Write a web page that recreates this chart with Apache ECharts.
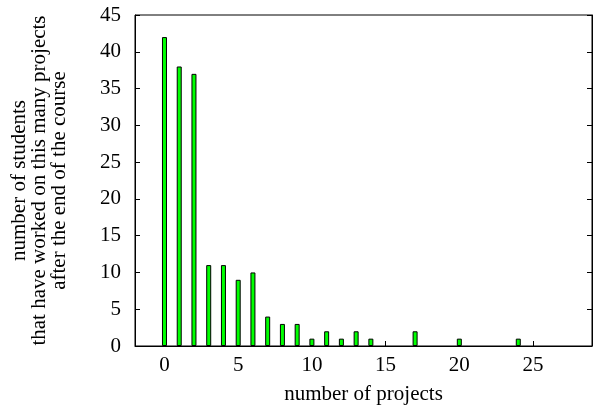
<!DOCTYPE html>
<html>
<head>
	<meta charset="UTF-8">
	<title>projects per student</title>
	<script src="https://cdn.jsdelivr.net/npm/echarts@6.0.0/dist/echarts.min.js"></script>
	<style>
		html, body { margin: 0; padding: 0; background: #fff; }
		#main { width: 597px; height: 410px; }
	</style>
</head>
<body>
<div id="main"></div>
<script>
	// number of projects -> number of students
	var projectCounts = [0, 1, 2, 3, 4, 5, 6, 7, 8, 9, 10, 11, 12, 13, 14, 17, 20, 24];
	var studentCounts = [42, 38, 37, 11, 11, 9, 10, 4, 3, 3, 1, 2, 1, 2, 1, 2, 1, 1];
	var xTicks = [0, 5, 10, 15, 20, 25];

	var points = [];
	for (var i = 0; i < projectCounts.length; i++) {
		points.push([projectCounts[i], studentCounts[i]]);
	}

	var serif = 'Liberation Serif, Times New Roman, serif';
	var myChart = echarts.init(document.getElementById('main'));

	var option = {
		animation: false,
		textStyle: { fontFamily: serif },
		grid: {
			left: 135, right: 5, top: 15, bottom: 63,
			show: true, borderColor: '#000', borderWidth: 1
		},
		xAxis: {
			type: 'value',
			min: -2,
			max: 29,
			name: 'number of projects',
			nameLocation: 'middle',
			nameGap: 38,
			nameTextStyle: { fontFamily: serif, fontSize: 21, color: '#000' },
			splitLine: { show: false },
			axisLine: { onZero: false, lineStyle: { color: '#000', width: 1 } },
			axisTick: { inside: true, length: 5, customValues: xTicks, lineStyle: { color: '#000' } },
			axisLabel: { customValues: xTicks, margin: 9, fontFamily: serif, fontSize: 21, color: '#000' }
		},
		yAxis: [{
			type: 'value',
			min: 0,
			max: 45,
			interval: 5,
			name: 'number of students\nthat have worked on this many projects\nafter the end of the course',
			nameLocation: 'middle',
			nameGap: 66,
			nameTextStyle: { fontFamily: serif, fontSize: 21, lineHeight: 20, color: '#000' },
			splitLine: { show: false },
			axisLine: { show: true, onZero: false, lineStyle: { color: '#000', width: 1 } },
			axisTick: { inside: true, length: 5, lineStyle: { color: '#000' } },
			axisLabel: { margin: 14, fontFamily: serif, fontSize: 21, color: '#000' }
		}, {
			// mirrored ticks on the right border
			type: 'value',
			position: 'right',
			min: 0,
			max: 45,
			interval: 5,
			splitLine: { show: false },
			axisLine: { show: true, onZero: false, lineStyle: { color: '#000', width: 1 } },
			axisTick: { inside: true, length: 5, lineStyle: { color: '#000' } },
			axisLabel: { show: false }
		}],
		series: [{
			type: 'bar',
			data: points,
			barWidth: 5,
			itemStyle: { color: '#00ff00', borderColor: '#000', borderWidth: 1 }
		}]
	};

	myChart.setOption(option);
</script>
</body>
</html>
